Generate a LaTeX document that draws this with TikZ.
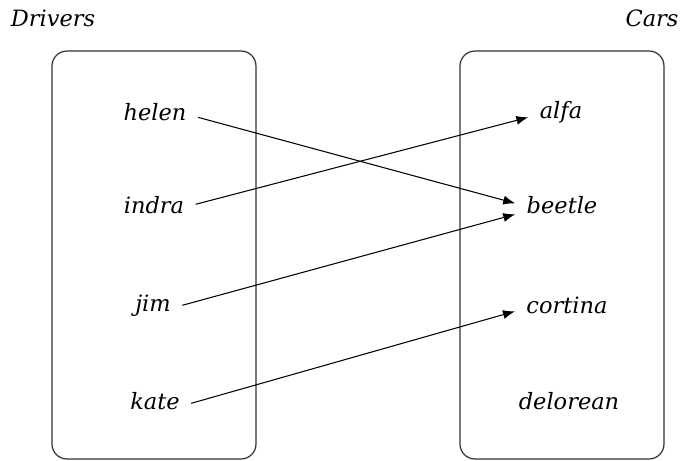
\documentclass[tikz,border=0pt]{standalone}
\usepackage{fontspec}
\setmainfont{DejaVu Serif}
\usetikzlibrary{arrows.meta}

\begin{document}
\begin{tikzpicture}[line width = 0.6pt,
                    setbox/.style = {draw = black!80, line width = 0.7pt, rounded corners = 0.3cm},
                    item/.style = {font = \itshape\fontsize{12.8}{15}\selectfont, anchor = base,
                                   inner xsep = 0.22cm, text height = 1.5ex, text depth = 0.25ex},
                    maps/.style = {-{Latex[length = 6.8pt, width = 5.2pt]}}]
      \useasboundingbox (0, 0) rectangle (13.68, 9.2);
      % the two sets
      \draw [setbox] (1.04, 0.02) rectangle (5.12, 8.18);
      \draw [setbox] (9.2, 0.02) rectangle (13.28, 8.18);
      \node [item] (drivers) at (1.06, 8.66){Drivers};
      \node [item] (cars) at (13.04, 8.66){Cars};
      % drivers
      \node [item] (helen) at (3.1, 6.8){helen};
      \node [item] (indra) at (3.08, 4.94){indra};
      \node [item] (jim) at (3.06, 2.98){jim};
      \node [item] (kate) at (3.1, 1.02){kate};
      % cars
      \node [item] (alfa) at (11.22, 6.84){alfa};
      \node [item] (beetle) at (11.24, 4.94){beetle};
      \node [item] (cortina) at (11.34, 2.94){cortina};
      \node [item] (delorean) at (11.38, 1.02){delorean};
      % who drives what
      \draw [maps] ([yshift = -0.06cm]helen.east) -- ([yshift = 0.08cm]beetle.west);
      \draw [maps] ([yshift = 0.06cm]indra.east) -- ([yshift = -0.1cm]alfa.west);
      \draw [maps] (jim.east) -- ([yshift = -0.14cm]beetle.west);
      \draw [maps] (kate.east) -- ([yshift = -0.08cm]cortina.west);
    \end{tikzpicture}
\end{document}
